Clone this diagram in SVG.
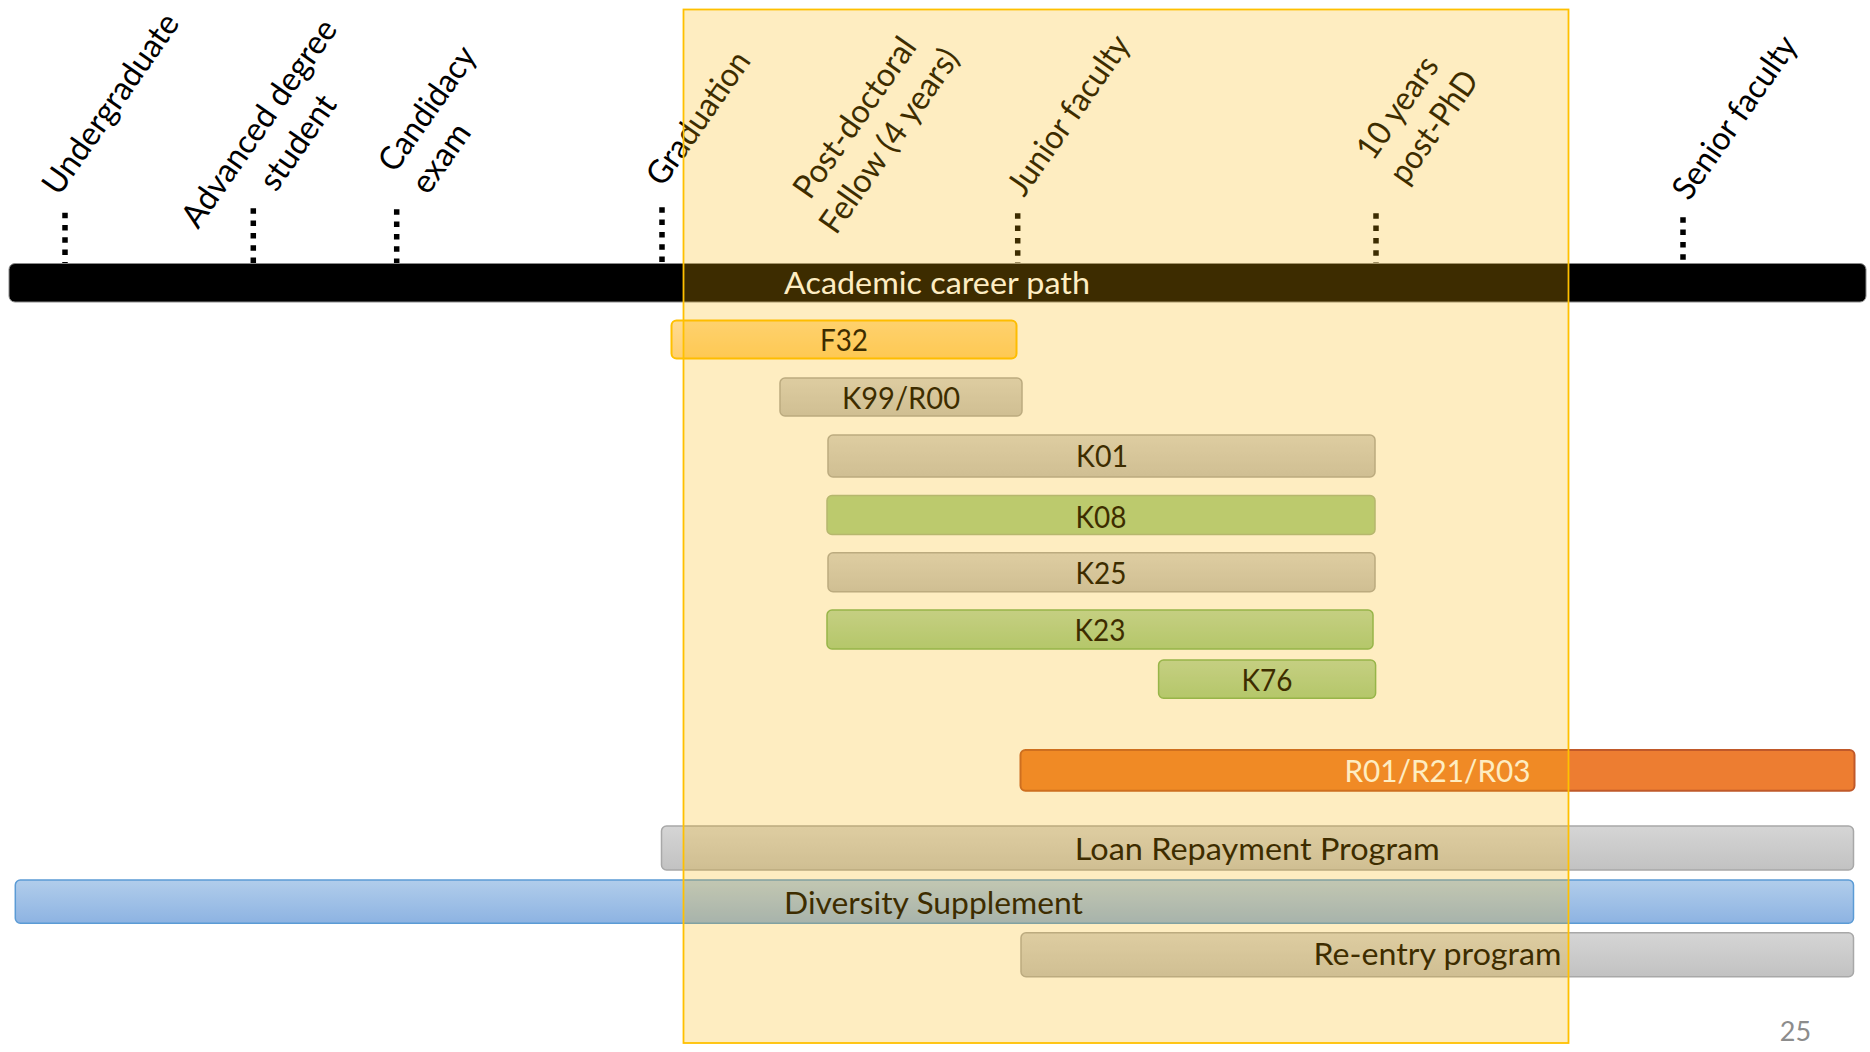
<svg xmlns="http://www.w3.org/2000/svg" width="1870" height="1052" viewBox="0 0 1870 1052">
<style>
.lbl{font-family:Lato,"Open Sans","DejaVu Sans",sans-serif;font-size:33px;fill:#000}
.bt{font-family:Lato,"Open Sans","DejaVu Sans",sans-serif;font-size:31px;fill:#000;text-anchor:middle}
.wt{fill:#fff}
.gray{fill:url(#gGray);stroke:#A8A8A8;stroke-width:1.5}
.tick{stroke:#000;stroke-width:5.5;stroke-dasharray:5.5 6.8;fill:none}
</style>
<defs>
<linearGradient id="gGray" x1="0" y1="0" x2="0" y2="1"><stop offset="0" stop-color="#D5D5D5"/><stop offset="1" stop-color="#C2C2C2"/></linearGradient>
<linearGradient id="gGold" x1="0" y1="0" x2="0" y2="1"><stop offset="0" stop-color="#FFDB92"/><stop offset="1" stop-color="#FFCF6E"/></linearGradient>
<linearGradient id="gGreen" x1="0" y1="0" x2="0" y2="1"><stop offset="0" stop-color="#B5D8AC"/><stop offset="1" stop-color="#9ECD8C"/></linearGradient>
<linearGradient id="gBlue" x1="0" y1="0" x2="0" y2="1"><stop offset="0" stop-color="#B1CDEB"/><stop offset="1" stop-color="#8DB3E2"/></linearGradient>
</defs>
<rect width="1870" height="1052" fill="#fff"/>

<g id="connectors">
<line class="tick" x1="65" y1="212.7" x2="65" y2="264"/>
<line class="tick" x1="253.3" y1="208.3" x2="253.3" y2="264"/>
<line class="tick" x1="396.7" y1="209.3" x2="396.7" y2="264"/>
<line class="tick" x1="662" y1="207.3" x2="662" y2="264"/>
<line class="tick" x1="1017.7" y1="213.3" x2="1017.7" y2="264"/>
<line class="tick" x1="1376" y1="213.3" x2="1376" y2="264"/>
<line class="tick" x1="1683" y1="217.3" x2="1683" y2="264"/>
</g>

<g id="label-undergraduate"><text class="lbl" transform="translate(59,197) rotate(-55)" textLength="212" lengthAdjust="spacingAndGlyphs">Undergraduate</text></g>
<g id="label-advanced"><text class="lbl" transform="translate(198,230) rotate(-55)" textLength="245" lengthAdjust="spacingAndGlyphs">Advanced degree</text><text class="lbl" transform="translate(276,193) rotate(-55)" textLength="108" lengthAdjust="spacingAndGlyphs">student</text></g>
<g id="label-candidacy"><text class="lbl" transform="translate(395,174) rotate(-55)" textLength="144" lengthAdjust="spacingAndGlyphs">Candidacy</text><text class="lbl" transform="translate(428,196) rotate(-55)" textLength="77" lengthAdjust="spacingAndGlyphs">exam</text></g>
<g id="label-graduation"><text class="lbl" transform="translate(663,188) rotate(-55)" textLength="155" lengthAdjust="spacingAndGlyphs">Graduation</text></g>
<g id="label-postdoc"><text class="lbl" transform="translate(810,201) rotate(-55)" textLength="188" lengthAdjust="spacingAndGlyphs">Post-doctoral</text><text class="lbl" transform="translate(836,236) rotate(-55)" textLength="217" lengthAdjust="spacingAndGlyphs">Fellow (4 years)</text></g>
<g id="label-junior"><text class="lbl" transform="translate(1024,198) rotate(-55)" textLength="187" lengthAdjust="spacingAndGlyphs">Junior faculty</text></g>
<g id="label-10years"><text class="lbl" transform="translate(1373,162) rotate(-55)" textLength="117" lengthAdjust="spacingAndGlyphs">10 years</text><text class="lbl" transform="translate(1406,186) rotate(-55)" textLength="129" lengthAdjust="spacingAndGlyphs">post-PhD</text></g>
<g id="label-senior"><text class="lbl" transform="translate(1689,202) rotate(-55)" textLength="191" lengthAdjust="spacingAndGlyphs">Senior faculty</text></g>

<g id="academic-path"><rect x="9" y="263.5" width="1857" height="38.5" rx="6" fill="#000" stroke="#8a8a8a" stroke-width="1"/><text class="bt wt" x="937" y="293.5" textLength="306" lengthAdjust="spacingAndGlyphs">Academic career path</text></g>

<g id="f32"><rect x="671.5" y="320.5" width="345" height="38" rx="5" fill="url(#gGold)" stroke="#FFC000" stroke-width="2"/><text class="bt" x="844" y="351" textLength="48" lengthAdjust="spacingAndGlyphs">F32</text></g>
<g id="k99"><rect class="gray" x="780" y="378" width="242" height="38" rx="5"/><text class="bt" x="901" y="409" textLength="118" lengthAdjust="spacingAndGlyphs">K99/R00</text></g>
<g id="k01"><rect class="gray" x="828" y="435" width="547" height="42" rx="5"/><text class="bt" x="1102" y="467" textLength="52" lengthAdjust="spacingAndGlyphs">K01</text></g>
<g id="k08"><rect x="827" y="495.5" width="548" height="39" rx="5" fill="#A8D190" stroke="#A0B890" stroke-width="1.5"/><text class="bt" x="1101" y="527.5" textLength="51" lengthAdjust="spacingAndGlyphs">K08</text></g>
<g id="k25"><rect class="gray" x="828" y="552.7" width="547" height="39" rx="5"/><text class="bt" x="1101" y="584" textLength="51" lengthAdjust="spacingAndGlyphs">K25</text></g>
<g id="k23"><rect x="827" y="610" width="546" height="39" rx="5" fill="url(#gGreen)" stroke="#78B560" stroke-width="1.5"/><text class="bt" x="1100" y="640.5" textLength="51" lengthAdjust="spacingAndGlyphs">K23</text></g>
<g id="k76"><rect x="1158.6" y="660" width="217" height="38.3" rx="5" fill="url(#gGreen)" stroke="#78B560" stroke-width="1.5"/><text class="bt" x="1267" y="690.5" textLength="51" lengthAdjust="spacingAndGlyphs">K76</text></g>
<g id="r01"><rect x="1020.5" y="750" width="834" height="40.7" rx="5" fill="#ED7D31" stroke="#C0592A" stroke-width="2"/><text class="bt wt" x="1437.5" y="781.7" textLength="186" lengthAdjust="spacingAndGlyphs">R01/R21/R03</text></g>
<g id="loan"><rect class="gray" x="661.5" y="826" width="1192" height="44" rx="5"/><text class="bt" x="1257.3" y="860" textLength="365" lengthAdjust="spacingAndGlyphs">Loan Repayment Program</text></g>
<g id="diversity"><rect x="15.3" y="880" width="1838.2" height="43.3" rx="5" fill="url(#gBlue)" stroke="#5B9BD5" stroke-width="1.5"/><text class="bt" x="933.5" y="913.5" textLength="299" lengthAdjust="spacingAndGlyphs">Diversity Supplement</text></g>
<g id="reentry"><rect class="gray" x="1021" y="932.7" width="832.5" height="44" rx="5"/><text class="bt" x="1437.5" y="965" textLength="248" lengthAdjust="spacingAndGlyphs">Re-entry program</text></g>

<g id="highlight"><rect x="683.5" y="9.5" width="885" height="1033.5" fill="#FAB400" fill-opacity="0.245" stroke="#FFC000" stroke-width="1.8"/></g>

<g id="page-number"><text x="1795.5" y="1041" font-family="Lato,'Open Sans',sans-serif" font-size="27" fill="#8C8C8C" text-anchor="middle">25</text></g>
</svg>
